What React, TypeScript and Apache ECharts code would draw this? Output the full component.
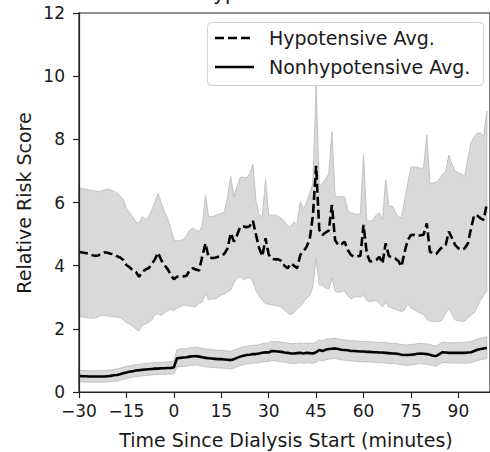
import React, { useEffect, useRef } from "react";
import * as echarts from "echarts";

const minutes = [
  -30, -29, -28, -27, -26, -25, -24, -23, -22, -21,
  -20, -19, -18, -17, -16, -15, -14, -13, -12, -11,
  -10, -9, -8, -7, -6, -5, -4, -3, -2, -1,
  0, 1, 2, 3, 4, 5, 6, 7, 8, 9,
  10, 11, 12, 13, 14, 15, 16, 17, 18, 19,
  20, 21, 22, 23, 24, 25, 26, 27, 28, 29,
  30, 31, 32, 33, 34, 35, 36, 37, 38, 39,
  40, 41, 42, 43, 44, 45, 46, 47, 48, 49,
  50, 51, 52, 53, 54, 55, 56, 57, 58, 59,
  60, 61, 62, 63, 64, 65, 66, 67, 68, 69,
  70, 71, 72, 73, 74, 75, 76, 77, 78, 79,
  80, 81, 82, 83, 84, 85, 86, 87, 88, 89,
  90, 91, 92, 93, 94, 95, 96, 97, 98, 99,
];

const hypUpper = [
  6.45, 6.45, 6.42, 6.40, 6.38, 6.36, 6.34, 6.36, 6.40, 6.42,
  6.40, 6.36, 6.30, 6.20, 6.10, 5.80, 5.68, 5.55, 5.38, 5.34,
  5.55, 5.45, 5.55, 5.76, 6.00, 6.29, 6.00, 5.71, 5.50, 5.20,
  4.81, 4.78, 4.80, 4.82, 4.95, 5.12, 5.18, 5.12, 5.08, 5.25,
  6.24, 5.55, 5.55, 5.58, 5.62, 5.65, 5.71, 6.18, 6.82, 6.18,
  6.50, 6.80, 6.80, 6.78, 6.90, 7.22, 6.03, 5.60, 5.55, 6.73,
  5.60, 5.60, 5.60, 5.55, 5.50, 5.40, 5.25, 5.23, 5.39, 5.30,
  6.03, 5.80, 6.00, 6.29, 6.60, 9.70, 6.50, 6.60, 6.75, 6.90,
  8.24, 6.18, 6.18, 6.18, 6.18, 5.76, 5.66, 5.64, 5.62, 5.64,
  7.50, 5.45, 5.40, 5.45, 5.60, 5.66, 5.45, 6.71, 5.87, 5.90,
  5.70, 5.55, 5.50, 6.08, 6.60, 7.13, 7.12, 7.12, 7.08, 7.10,
  8.14, 6.60, 6.62, 6.65, 6.75, 6.90, 6.98, 7.50, 7.20, 7.00,
  6.95, 6.90, 6.82, 7.40, 7.90, 8.08, 8.20, 8.20, 8.10, 8.90,
];

const hypLower = [
  2.40, 2.38, 2.36, 2.35, 2.34, 2.34, 2.38, 2.42, 2.42, 2.40,
  2.40, 2.38, 2.38, 2.36, 2.28, 2.20, 2.15, 2.08, 2.00, 1.94,
  2.12, 2.15, 2.20, 2.28, 2.45, 2.48, 2.42, 2.50, 2.58, 2.62,
  2.58, 2.65, 2.70, 2.75, 2.74, 2.72, 2.70, 2.72, 2.80, 2.86,
  3.13, 2.92, 2.95, 2.95, 3.00, 3.07, 3.10, 3.18, 3.23, 3.45,
  3.62, 3.65, 3.55, 3.60, 3.63, 3.49, 3.20, 3.05, 2.91, 2.80,
  2.78, 2.76, 2.74, 2.72, 2.68, 2.60, 2.50, 2.45, 2.52, 2.62,
  2.72, 2.85, 2.98, 3.05, 3.35, 4.23, 3.40, 3.38, 3.30, 3.25,
  3.62, 3.20, 3.15, 3.18, 3.20, 3.05, 2.95, 3.00, 3.02, 3.00,
  3.07, 2.90, 2.86, 2.88, 2.90, 2.80, 2.70, 2.85, 2.70, 2.65,
  2.62, 2.58, 2.55, 2.60, 2.81, 2.65, 2.60, 2.55, 2.50, 2.45,
  2.30, 2.25, 2.24, 2.23, 2.23, 2.30, 2.50, 2.65, 2.45, 2.28,
  2.26, 2.24, 2.25, 2.35, 2.44, 2.50, 2.70, 2.91, 3.05, 3.20,
];

const hypAvg = [
  4.44, 4.42, 4.40, 4.38, 4.34, 4.31, 4.32, 4.38, 4.42, 4.41,
  4.38, 4.36, 4.30, 4.26, 4.18, 4.02, 3.95, 3.85, 3.80, 3.65,
  3.80, 3.88, 3.92, 4.05, 4.20, 4.41, 4.18, 4.02, 3.90, 3.72,
  3.57, 3.65, 3.67, 3.66, 3.68, 3.85, 3.92, 3.88, 3.85, 4.30,
  4.71, 4.26, 4.24, 4.25, 4.28, 4.30, 4.38, 4.55, 5.03, 4.76,
  4.97, 5.23, 5.24, 5.22, 5.25, 5.42, 4.97, 4.55, 4.30, 4.87,
  4.35, 4.22, 4.20, 4.20, 4.15, 4.00, 3.92, 4.07, 4.00, 3.92,
  4.34, 4.45, 4.60, 4.85, 5.60, 7.16, 5.13, 4.97, 5.05, 5.11,
  5.92, 4.81, 4.65, 4.68, 4.76, 4.50, 4.34, 4.28, 4.30, 4.31,
  5.29, 4.40, 4.13, 4.16, 4.18, 4.28, 4.07, 4.71, 4.31, 4.25,
  4.23, 4.15, 3.97, 4.44, 4.81, 4.97, 4.98, 4.95, 4.96, 4.98,
  5.34, 4.44, 4.40, 4.37, 4.50, 4.60, 4.66, 5.08, 4.87, 4.65,
  4.55, 4.50, 4.55, 4.70, 5.18, 5.60, 5.58, 5.50, 5.45, 5.97,
];

const nonAvg = [
  0.51, 0.50, 0.50, 0.49, 0.49, 0.49, 0.49, 0.49, 0.49, 0.50,
  0.51, 0.53, 0.54, 0.56, 0.59, 0.62, 0.64, 0.66, 0.68, 0.69,
  0.70, 0.71, 0.72, 0.73, 0.74, 0.74, 0.75, 0.75, 0.76, 0.76,
  0.78, 1.07, 1.08, 1.09, 1.10, 1.12, 1.13, 1.14, 1.12, 1.10,
  1.08, 1.07, 1.06, 1.05, 1.04, 1.04, 1.03, 1.02, 1.01, 1.04,
  1.08, 1.12, 1.15, 1.17, 1.18, 1.20, 1.20, 1.22, 1.24, 1.26,
  1.25, 1.30, 1.29, 1.28, 1.27, 1.25, 1.24, 1.22, 1.22, 1.23,
  1.24, 1.22, 1.24, 1.23, 1.22, 1.26, 1.33, 1.30, 1.34, 1.36,
  1.37, 1.38, 1.36, 1.34, 1.33, 1.32, 1.30, 1.30, 1.29, 1.28,
  1.28, 1.27, 1.27, 1.26, 1.26, 1.25, 1.25, 1.24, 1.23, 1.22,
  1.22, 1.20, 1.18, 1.17, 1.17, 1.18, 1.19, 1.21, 1.22, 1.21,
  1.20, 1.18, 1.15, 1.14, 1.20, 1.26, 1.25, 1.24, 1.24, 1.24,
  1.24, 1.24, 1.24, 1.25, 1.26, 1.30, 1.34, 1.36, 1.38, 1.40,
];

const nonUpper = [
  0.69, 0.68, 0.68, 0.67, 0.67, 0.67, 0.67, 0.67, 0.68, 0.69,
  0.70, 0.72, 0.73, 0.75, 0.78, 0.81, 0.83, 0.85, 0.87, 0.88,
  0.89, 0.90, 0.91, 0.92, 0.93, 0.93, 0.94, 0.94, 0.95, 0.96,
  0.98, 1.35, 1.36, 1.37, 1.38, 1.40, 1.41, 1.42, 1.40, 1.38,
  1.36, 1.35, 1.34, 1.33, 1.32, 1.32, 1.31, 1.30, 1.29, 1.32,
  1.36, 1.40, 1.43, 1.45, 1.46, 1.48, 1.48, 1.50, 1.53, 1.55,
  1.55, 1.60, 1.59, 1.59, 1.58, 1.56, 1.55, 1.53, 1.53, 1.54,
  1.55, 1.53, 1.55, 1.54, 1.53, 1.58, 1.65, 1.62, 1.66, 1.68,
  1.69, 1.70, 1.68, 1.66, 1.65, 1.64, 1.62, 1.62, 1.61, 1.60,
  1.60, 1.59, 1.59, 1.58, 1.58, 1.57, 1.57, 1.56, 1.55, 1.54,
  1.54, 1.52, 1.50, 1.49, 1.49, 1.50, 1.51, 1.53, 1.54, 1.53,
  1.52, 1.50, 1.47, 1.46, 1.52, 1.58, 1.57, 1.56, 1.56, 1.56,
  1.57, 1.57, 1.57, 1.58, 1.60, 1.64, 1.68, 1.70, 1.72, 1.75,
];

const nonLower = [
  0.33, 0.32, 0.32, 0.31, 0.31, 0.31, 0.31, 0.31, 0.31, 0.32,
  0.33, 0.34, 0.35, 0.37, 0.40, 0.43, 0.45, 0.47, 0.49, 0.50,
  0.51, 0.52, 0.53, 0.54, 0.55, 0.55, 0.56, 0.56, 0.57, 0.57,
  0.58, 0.79, 0.80, 0.81, 0.82, 0.84, 0.85, 0.86, 0.84, 0.82,
  0.80, 0.79, 0.78, 0.77, 0.76, 0.76, 0.75, 0.74, 0.73, 0.76,
  0.80, 0.84, 0.87, 0.89, 0.90, 0.92, 0.92, 0.93, 0.95, 0.97,
  0.96, 1.00, 0.99, 0.97, 0.96, 0.94, 0.93, 0.91, 0.91, 0.92,
  0.93, 0.91, 0.93, 0.92, 0.91, 0.94, 1.01, 0.98, 1.02, 1.04,
  1.05, 1.06, 1.04, 1.02, 1.01, 1.00, 0.98, 0.98, 0.97, 0.96,
  0.96, 0.95, 0.95, 0.94, 0.94, 0.93, 0.93, 0.92, 0.91, 0.90,
  0.90, 0.88, 0.86, 0.85, 0.85, 0.86, 0.87, 0.89, 0.90, 0.89,
  0.88, 0.86, 0.83, 0.82, 0.88, 0.94, 0.93, 0.92, 0.92, 0.92,
  0.92, 0.92, 0.91, 0.92, 0.93, 0.96, 1.00, 1.02, 1.04, 1.06,
];

const legendLabels = ["Hypotensive Avg.", "Nonhypotensive Avg."];
const titleText = "Hypotensive";
const xTitle = "Time Since Dialysis Start (minutes)";
const yTitle = "Relative Risk Score";

const FONT = "DejaVu Sans";
const TXT = "#1a1a1a";

function bandSeries(upper: number[], lower: number[]) {
  return {
    type: "custom",
    silent: true,
    z: 1,
    encode: { x: 0, y: 1 },
    data: [[minutes[0], lower[0]]],
    renderItem: (params: any, api: any) => {
      const pts: number[][] = [];
      for (let i = 0; i < minutes.length; i++) pts.push(api.coord([minutes[i], upper[i]]));
      for (let i = minutes.length - 1; i >= 0; i--) pts.push(api.coord([minutes[i], lower[i]]));
      return {
        type: "polygon",
        shape: { points: pts },
        style: { fill: "#d9d9d9", stroke: "#c2c2c2", lineWidth: 1 },
      };
    },
  };
}

export default function App() {
  const ref = useRef<HTMLDivElement>(null);
  useEffect(() => {
    if (!ref.current) return;
    const chart = echarts.init(ref.current, undefined, { renderer: "svg" });
    const fmt = (v: number) => String(v).replace("-", "\u2212");
    chart.setOption({
      animation: false,
      backgroundColor: "#ffffff",
      grid: {
        left: 79,
        top: 13,
        right: -3,
        bottom: 60,
        show: true,
        borderColor: "#222",
        borderWidth: 1.2,
        backgroundColor: "transparent",
        z: 10,
      },
      xAxis: {
        type: "value",
        min: -30,
        max: 100,
        interval: 15,
        z: 10,
        axisLine: { show: true, onZero: false, lineStyle: { color: "#222", width: 1.2 } },
        axisTick: { show: true, length: 6, lineStyle: { color: "#222", width: 1.2 } },
        axisLabel: {
          formatter: fmt,
          showMaxLabel: false,
          fontFamily: FONT,
          fontSize: 17,
          color: TXT,
          margin: 10,
        },
        splitLine: { show: false },
      },
      yAxis: {
        type: "value",
        min: 0,
        max: 12,
        interval: 2,
        z: 10,
        axisLine: { show: true, onZero: false, lineStyle: { color: "#222", width: 1.2 } },
        axisTick: { show: true, length: 6, lineStyle: { color: "#222", width: 1.2 } },
        axisLabel: { fontFamily: FONT, fontSize: 17, color: TXT, margin: 14 },
        splitLine: { show: false },
      },
      series: [
        bandSeries(hypUpper, hypLower),
        bandSeries(nonUpper, nonLower),
        {
          type: "line",
          name: legendLabels[0],
          data: minutes.map((t, i) => [t, hypAvg[i]]),
          symbol: "none",
          z: 3,
          lineStyle: { color: "#000", width: 2.6, type: [9, 4] },
        },
        {
          type: "line",
          name: legendLabels[1],
          data: minutes.map((t, i) => [t, nonAvg[i]]),
          symbol: "none",
          z: 3,
          lineStyle: { color: "#000", width: 2.6 },
        },
      ],
      graphic: [
        {
          type: "text",
          x: 198,
          y: -7,
          style: {
            text: titleText,
            fontFamily: FONT,
            fontSize: 20,
            fill: TXT,
            align: "left",
            verticalAlign: "middle",
          },
        },
        {
          type: "text",
          x: 24,
          y: 203,
          rotation: Math.PI / 2,
          style: {
            text: yTitle,
            fontFamily: FONT,
            fontSize: 19,
            fill: TXT,
            align: "center",
            verticalAlign: "middle",
          },
        },
        {
          type: "text",
          x: 286,
          y: 440,
          style: {
            text: xTitle,
            fontFamily: FONT,
            fontSize: 19,
            fill: TXT,
            align: "center",
            verticalAlign: "middle",
          },
        },
        {
          type: "rect",
          z: 20,
          shape: { x: 207.5, y: 22.5, width: 276, height: 63, r: 4 },
          style: { fill: "rgba(255,255,255,0.8)", stroke: "#d0d0d0", lineWidth: 1 },
        },
        {
          type: "line",
          z: 21,
          shape: { x1: 215, y1: 38, x2: 254, y2: 38 },
          style: { stroke: "#000", lineWidth: 2.6, lineDash: [9, 4] },
        },
        {
          type: "line",
          z: 21,
          shape: { x1: 215, y1: 67, x2: 254, y2: 67 },
          style: { stroke: "#000", lineWidth: 2.6 },
        },
        {
          type: "text",
          z: 21,
          x: 269,
          y: 38,
          style: {
            text: legendLabels[0],
            fontFamily: FONT,
            fontSize: 19,
            fill: TXT,
            align: "left",
            verticalAlign: "middle",
          },
        },
        {
          type: "text",
          z: 21,
          x: 269,
          y: 67,
          style: {
            text: legendLabels[1],
            fontFamily: FONT,
            fontSize: 19,
            fill: TXT,
            align: "left",
            verticalAlign: "middle",
          },
        },
      ],
    });
    return () => chart.dispose();
  }, []);
  return (
    <div
      ref={ref}
      style={{ position: "fixed", left: 0, top: 0, width: 490, height: 452 }}
    />
  );
}
